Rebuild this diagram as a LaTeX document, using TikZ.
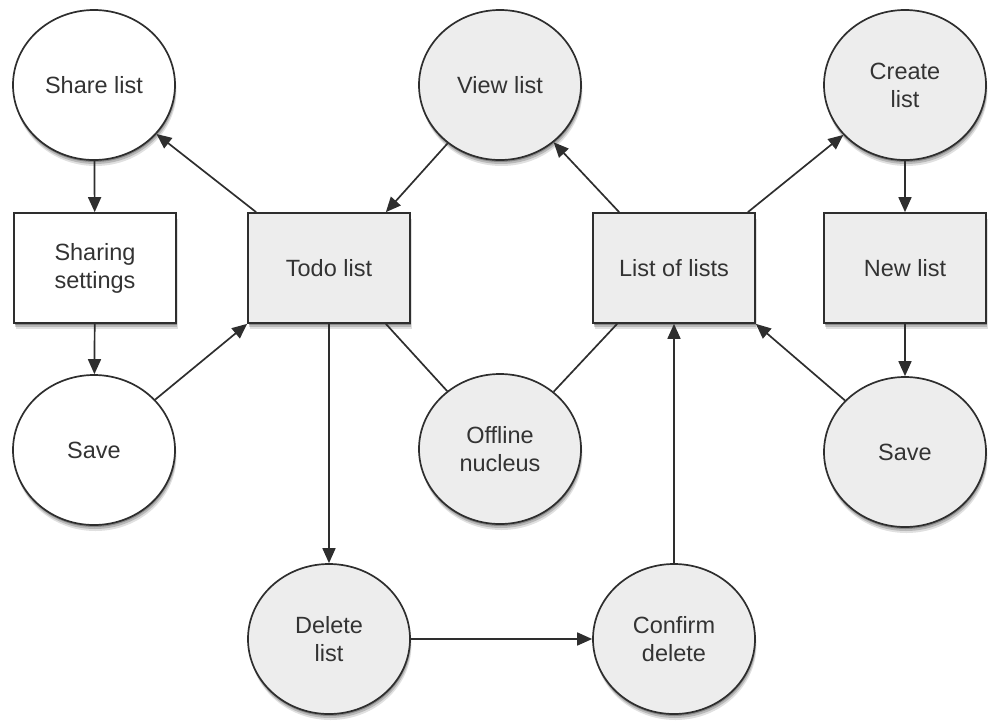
\documentclass[tikz,border=0pt]{standalone}
\usepackage{fontspec}
\setmainfont{Liberation Sans}
\usetikzlibrary{shapes.geometric,shadows,arrows.meta}
\definecolor{strokec}{HTML}{2E2E2E}
\definecolor{grayfill}{HTML}{EDEDED}
\definecolor{textc}{HTML}{333333}
\tikzset{
  softshadow/.style={
    drop shadow={shadow xshift=1.5pt,shadow yshift=-6pt,opacity=0.12,fill=black},
    drop shadow={shadow xshift=1pt,shadow yshift=-4pt,opacity=0.18,fill=black},
    drop shadow={shadow xshift=0.5pt,shadow yshift=-2pt,opacity=0.25,fill=black}},
  basenode/.style={draw=strokec,line width=1.7pt,inner sep=0pt,align=center,
    text=textc,font=\fontsize{23.5}{28}\selectfont,softshadow},
  oval/.style={basenode,ellipse,minimum width=162pt,minimum height=150pt},
  box/.style={basenode,rectangle,minimum width=162pt,minimum height=110pt},
  graynode/.style={fill=grayfill},
  whitenode/.style={fill=white},
  conn/.style={draw=strokec,line width=1.7pt},
  arr/.style={conn,-{Triangle[length=15pt,width=13pt]}},
}
\begin{document}
\begin{tikzpicture}[x=1pt,y=-1pt]
\useasboundingbox (0,0) rectangle (989,721);
% nodes
\node[oval,whitenode] (share) at (94,85) {Share list};
\node[box,whitenode] (sset) at (95,268) {Sharing\\settings};
\node[oval,whitenode] (save1) at (94,450) {Save};
\node[box,graynode] (todo) at (329,268) {Todo list};
\node[oval,graynode] (view) at (500,85) {View list};
\node[box,graynode] (lol) at (674,268) {List of lists};
\node[oval,graynode] (create) at (905,85) {Create\\list};
\node[box,graynode] (newl) at (905,268) {New list};
\node[oval,graynode] (save2) at (905,452) {Save};
\node[oval,graynode] (off) at (500,449) {Offline\\nucleus};
\node[oval,graynode] (del) at (329,639) {Delete\\list};
\node[oval,graynode] (conf) at (674,639) {Confirm\\delete};
% connectors
\draw[arr] (share) -- (sset);
\draw[arr] (sset) -- (save1);
\draw[arr] (save1) -- (todo.south west);
\draw[arr] ([xshift=9pt]todo.north west) -- (share);
\draw[arr] (view) -- ([xshift=-25pt]todo.north east);
\draw[arr] ([xshift=27pt]lol.north west) -- (view);
\draw[arr] ([xshift=-8pt]lol.north east) -- (create);
\draw[arr] (create) -- (newl);
\draw[arr] (newl) -- (save2);
\draw[arr] (save2) -- (lol.south east);
\draw[conn] ([xshift=-25pt]todo.south east) -- (off);
\draw[conn] ([xshift=25pt]lol.south west) -- (off);
\draw[arr] (todo) -- (del);
\draw[arr] (del) -- (conf);
\draw[arr] (conf) -- (lol);
\end{tikzpicture}
\end{document}
